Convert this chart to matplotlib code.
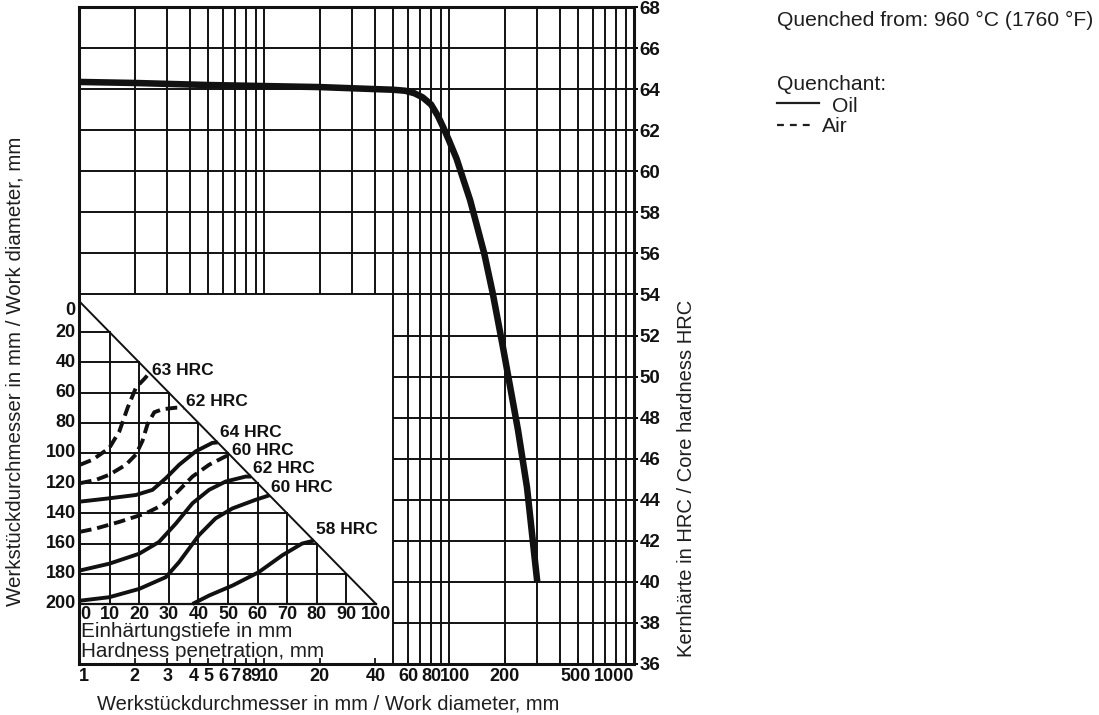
import matplotlib
matplotlib.use('Agg')
import matplotlib.pyplot as plt
from matplotlib.lines import Line2D
from matplotlib.transforms import ScaledTranslation

plt.rcParams['font.family'] = ['Liberation Sans', 'DejaVu Sans']

# core hardness vs work diameter (oil quench)
oil_d = [1, 2, 5, 10, 20, 40, 50, 58, 65, 72, 80, 87, 93, 100, 110, 120, 130,
         142, 155, 172, 196, 236, 264, 300]
oil_hrc = [64.35, 64.3, 64.2, 64.15, 64.1, 64.0, 63.97, 63.92, 63.8, 63.6, 63.25,
           62.7, 62.15, 61.5, 60.6, 59.55, 58.6, 57.3, 56.0, 54.1, 51.4,
           47.4, 44.6, 40.0]

hrc_ticks = [36, 38, 40, 42, 44, 46, 48, 50, 52, 54, 56, 58, 60, 62, 64, 66, 68]
grid_d = [2, 3, 4, 5, 6, 7, 8, 9, 10, 20, 30, 40, 50, 60, 70, 80, 90, 100,
          200, 300, 400, 500, 600, 700, 800, 900]
d_ticks = [1, 2, 3, 4, 5, 6, 7, 8, 9, 10, 20, 40, 60, 80, 100, 200, 500, 1000]
d_labels = ['1', '2', '3', '4', '5', '6', '7', '8', '9', '10', '20', '40', '60',
            '80', '100', '200', '500', '1000']

# hardness penetration inset: (penetration mm, work diameter mm)
pen_ticks = [0, 10, 20, 30, 40, 50, 60, 70, 80, 90, 100]
dia_ticks = [0, 20, 40, 60, 80, 100, 120, 140, 160, 180, 200]

air63_x = [0, 4.3, 9.9, 13.3, 16.1, 18.9, 21.7, 23.5]
air63_y = [107.8, 104.4, 96.7, 85.6, 70, 56.7, 51, 47]
air62_x = [0, 5.4, 9.9, 15.5, 18.9, 21.1, 22.8, 25.1, 27.9, 32.4, 35]
air62_y = [120, 117.8, 114.4, 107.8, 101, 92, 81, 73, 71, 70, 70]
oil64_x = [0, 9.9, 18.9, 24.5, 29, 33.5, 39.1, 44.7, 46.5]
oil64_y = [132.2, 130, 127.8, 124.4, 116.7, 107.8, 98.9, 93.3, 93]
air60_x = [0, 5.4, 13.3, 22.2, 27.9, 32.4, 38, 43.6, 49.2, 50.7]
air60_y = [152.2, 150, 145.6, 140, 134.4, 126.7, 115.6, 107.8, 102.2, 101.4]
oil62_x = [0, 9.9, 20, 26.7, 32.4, 38, 43.6, 49.2, 56, 57.8]
oil62_y = [177.8, 173.3, 166.7, 158.9, 146.7, 133.3, 124.4, 118.9, 115.6, 115.6]
oil60_x = [0, 9.9, 20, 29, 33.5, 40.2, 45.8, 51.5, 59.3, 64]
oil60_y = [197.8, 195.5, 190, 182.2, 172.2, 154.4, 143.3, 136.7, 131, 128]
oil58_x = [38, 43.6, 51.5, 60.4, 68.3, 75, 79]
oil58_y = [200, 194.4, 187.8, 178.9, 167.8, 160, 158]

curves = [
    (air63_x, air63_y, 'Air', '63 HRC'),
    (air62_x, air62_y, 'Air', '62 HRC'),
    (oil64_x, oil64_y, 'Oil', '64 HRC'),
    (air60_x, air60_y, 'Air', '60 HRC'),
    (oil62_x, oil62_y, 'Oil', '62 HRC'),
    (oil60_x, oil60_y, 'Oil', '60 HRC'),
    (oil58_x, oil58_y, 'Oil', '58 HRC'),
]
# how far each curve label sits above its curve end (pixels)
label_lift = [2, 6, 10, 5, 8, 8, 11]

W, H = 1099, 715
def fx(px):
    return px / W
def fy(py):
    return 1 - py / H

INK = '#111111'
TXT = '#1e1e1e'
scan = dict(family=['Liberation Sans', 'DejaVu Sans'], weight='bold', color=INK)

fig = plt.figure(figsize=(W / 100, H / 100), dpi=100)

# ---- main chart
ax = fig.add_axes([fx(79), fy(664), (634 - 79) / W, (664 - 7) / H])
ax.set_xscale('log')
ax.set_xlim(1, 1000)
ax.set_ylim(36, 68)

for d in grid_d:
    ax.vlines(d, 54 if d < 50 else 36, 68, color=INK, lw=1.4)
for h in hrc_ticks[1:-1]:
    ax.hlines(h, 1 if h >= 54 else 50, 1000, color=INK, lw=1.4)

ax.plot(oil_d, oil_hrc, color=INK, lw=4.7, solid_capstyle='butt',
        solid_joinstyle='round')

for s in ax.spines.values():
    s.set_linewidth(2.2)
    s.set_color(INK)

ax.yaxis.tick_right()
ax.set_yticks(hrc_ticks)
ax.set_yticklabels([str(h) for h in hrc_ticks], fontsize=13.5, **scan)
ax.tick_params(axis='y', direction='out', length=3, width=1.4, pad=1)

ax.set_xticks(d_ticks)
ax.set_xticklabels(d_labels, fontsize=13, **scan)
ax.xaxis.set_minor_locator(plt.NullLocator())
ax.tick_params(axis='x', direction='in', length=4, width=1.2, pad=3)
xl = ax.get_xticklabels()
xl[0].set_ha('left')
xl[-1].set_ha('right')
nudge = {'4': 3, '10': 5, '100': 6, '500': -3}
for lab in xl:
    if lab.get_text() in nudge:
        lab.set_transform(lab.get_transform() +
                          ScaledTranslation(nudge[lab.get_text()] / 100, 0, fig.dpi_scale_trans))

# ---- hardness penetration inset
ax2 = fig.add_axes([fx(80), fy(664), 105 * 2.96 / W, (664 - 294) / H])
ax2.set_xlim(0, 105)
ax2.set_ylim((664 - 302) / 1.51, (294 - 302) / 1.51)
ax2.axis('off')

ax2.plot([0, 100], [0, 200], color=INK, lw=1.4)
ax2.plot([0, 100], [200, 200], color=INK, lw=1.6)
for p in pen_ticks[1:-1]:
    ax2.plot([p, p], [2 * p, 200], color=INK, lw=1.4)
for dd in dia_ticks[1:-1]:
    ax2.plot([0, dd / 2], [dd, dd], color=INK, lw=1.4)

for (cx, cy, q, lab), lift in zip(curves, label_lift):
    if q == 'Oil':
        ax2.plot(cx, cy, color=INK, lw=2.8, solid_capstyle='butt')
    else:
        ax2.plot(cx, cy, color=INK, lw=2.8, dashes=(3.0, 1.5), dash_capstyle='butt')
    ax2.annotate(lab, (cx[-1], cy[-1]), xytext=(2, lift), textcoords='offset pixels',
                 ha='left', va='center', fontsize=12.5, **scan)

for dd in dia_ticks:
    ax2.text(-1.4, dd, str(dd), ha='right', va='top' if dd == 0 else 'center',
             fontsize=13, **scan)
for p in pen_ticks:
    ax2.text(p, (615 - 302) / 1.51, str(p), ha='left' if p == 0 else 'center',
             va='center', fontsize=13, **scan)

# ---- overlay texts
fig.text(fx(81), fy(637), 'Einhärtungstiefe in mm', va='baseline', fontsize=14.9, color=TXT)
fig.text(fx(81), fy(657), 'Hardness penetration, mm', va='baseline', fontsize=14.9, color=TXT)
fig.text(fx(328), fy(704), 'Werkstückdurchmesser in mm / Work diameter, mm',
         ha='center', va='center', fontsize=14.5, color=TXT)
fig.text(fx(15), fy(371), 'Werkstückdurchmesser in mm / Work diameter, mm',
         rotation=90, ha='center', va='center', fontsize=14.8, color=TXT)
fig.text(fx(687), fy(478), 'Kernhärte in HRC / Core hardness HRC',
         rotation=90, ha='center', va='center', fontsize=14.5, color=TXT)

fs = 15.2
fig.text(fx(777), fy(26), 'Quenched from: 960 °C (1760 °F)', va='baseline',
         fontsize=fs, color=TXT)
fig.text(fx(777), fy(90), 'Quenchant:', va='baseline', fontsize=fs, color=TXT)
fig.add_artist(Line2D([fx(777), fx(819)], [fy(103), fy(103)], color=TXT, lw=1.6))
fig.text(fx(832), fy(112), 'Oil', va='baseline', fontsize=fs, color=TXT)
fig.add_artist(Line2D([fx(777), fx(810)], [fy(125), fy(125)], color=TXT, lw=1.6,
                      dashes=(3.1, 2.7)))
fig.text(fx(822), fy(132), 'Air', va='baseline', fontsize=fs, color=TXT)

fig.savefig('out.png', dpi=100)
